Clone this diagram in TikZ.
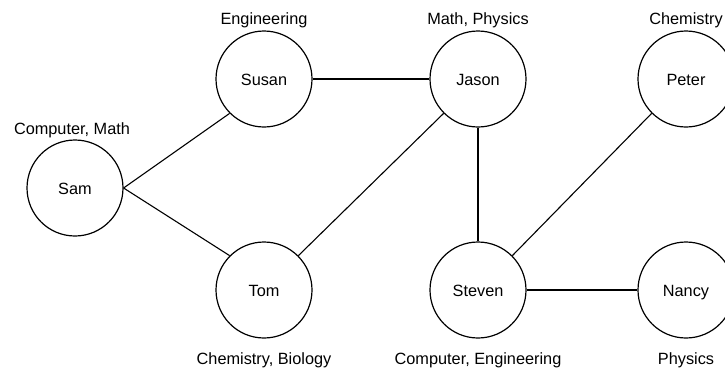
\documentclass[tikz,border=0pt]{standalone}
\usepackage{fontspec}
\setmainfont{Liberation Sans}
\begin{document}
\begin{tikzpicture}[x=1pt,y=-1pt,
  person/.style={circle,draw=black,line width=1.2pt,minimum size=96pt,inner sep=0pt,text height=14pt,text depth=2pt,font=\fontsize{16.3}{19}\selectfont},
  lbl/.style={inner sep=0pt,text height=14pt,text depth=2pt,font=\fontsize{16.3}{19}\selectfont},
  link/.style={line width=1.1pt,black}]
\useasboundingbox (0,0) rectangle (725,368);
\node[person] (sam) at (75,188) {Sam};
\node[person] (susan) at (264,79) {Susan};
\node[person] (jason) at (478,79) {Jason};
\node[person] (peter) at (686,79) {Peter};
\node[person] (tom) at (264,290) {Tom};
\node[person] (steven) at (478,290) {Steven};
\node[person] (nancy) at (686,290) {Nancy};
\node[lbl] (lsam) at (72,128) {Computer, Math};
\node[lbl] (lsusan) at (264,18) {Engineering};
\node[lbl] (ljason) at (478,18) {Math, Physics};
\node[lbl] (lpeter) at (686,18) {Chemistry};
\node[lbl] (ltom) at (264,358) {Chemistry, Biology};
\node[lbl] (lsteven) at (478,358) {Computer, Engineering};
\node[lbl] (lnancy) at (686,358) {Physics};
\draw[link] (sam.east) -- (susan.south west);
\draw[link] (sam.east) -- (tom.north west);
\draw[link] (susan.east) -- (jason.west);
\draw[link] (jason.south west) -- (tom.north east);
\draw[link] (jason.south) -- (steven.north);
\draw[link] (steven.north east) -- (peter.south west);
\draw[link] (steven.east) -- (nancy.west);
\end{tikzpicture}
\end{document}
